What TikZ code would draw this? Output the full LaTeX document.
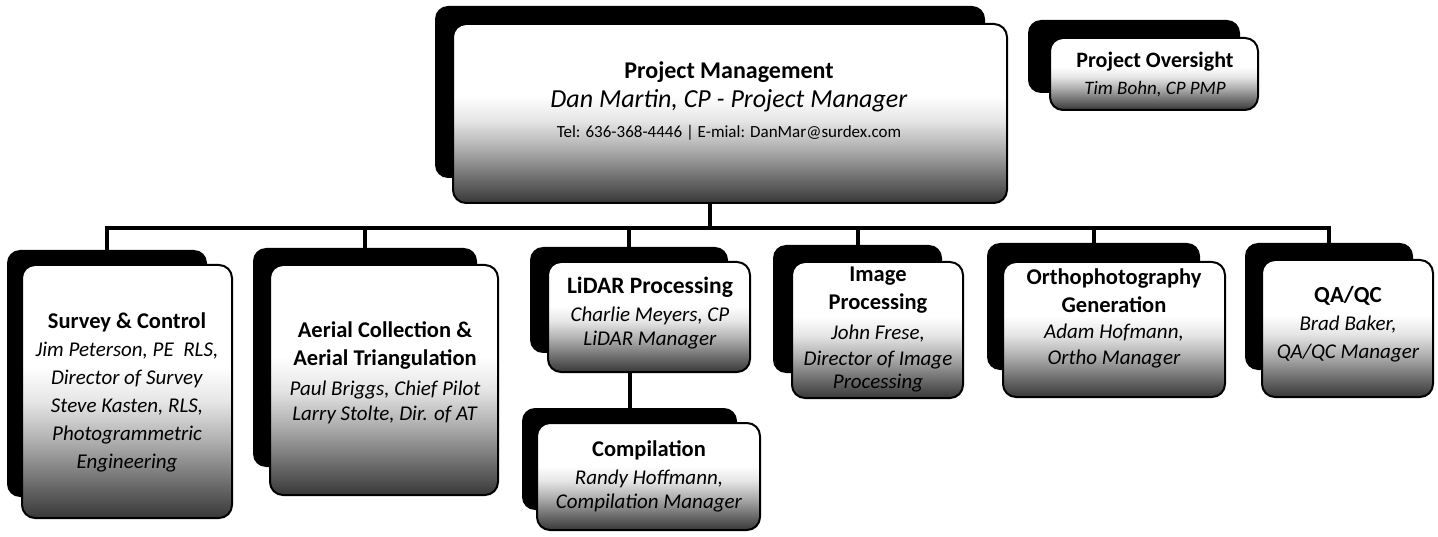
\documentclass[tikz,border=0pt]{standalone}
\usepackage{fontspec}
\setmainfont{Carlito}
% white at the top of each panel, darkening towards its lower edge
\pgfdeclareverticalshading{boxfade}{100bp}{color(0bp)=(black!80); color(25bp)=(black!78); color(31bp)=(black!60); color(40bp)=(black!32); color(48bp)=(black!10); color(55bp)=(white); color(100bp)=(white)}
\begin{document}
\begin{tikzpicture}[x=1pt,y=-1pt,
  backing/.style={fill=black, rounded corners=13pt, inner sep=0pt},
  panel/.style={draw=black, line width=2pt, rounded corners=13pt, shading=boxfade, inner sep=0pt},
  boxtext/.style={align=center, inner sep=0pt, font=\fontsize{21}{28}\selectfont},
  link/.style={line width=4pt}
]
\useasboundingbox (0,0) rectangle (1438,537);

% ---- Project Management
\node[backing, minimum width=550pt, minimum height=172pt] (pmsh) at (710,92) {};
\node[panel, minimum width=554pt, minimum height=179pt] (pm) at (730,113.5) {};
\node[boxtext] (pmtxt) at (729,101) {\fontsize{24}{29}\selectfont\textbf{Project Management}\\[1pt]
  \fontsize{26}{30}\selectfont\textit{Dan Martin, CP - Project Manager}\\[2pt]
  \fontsize{17}{28}\selectfont Tel: 636-368-4446 | E-mial: DanMar@surdex.com};

% ---- Project Oversight
\node[backing, minimum width=212pt, minimum height=73pt] (posh) at (1134,56.5) {};
\node[panel, minimum width=208pt, minimum height=72pt] (po) at (1154,74) {};
\node[boxtext] (potxt) at (1155,74.5) {\fontsize{22}{33}\selectfont\textbf{Project Oversight}\\
  \fontsize{19}{33}\selectfont\textit{Tim Bohn, CP PMP}};

% ---- Survey & Control
\node[backing, minimum width=200pt, minimum height=247pt] (svsh) at (107,373.5) {};
\node[panel, minimum width=210pt, minimum height=253pt] (sv) at (127,391.5) {};
\node[boxtext] (svtxt) at (127,392) {\textbf{\fontsize{22.5}{28}\selectfont Survey \& Control}\\
  \textit{Jim Peterson, PE\ \ RLS,}\\ \textit{Director of Survey}\\ \textit{Steve Kasten, RLS,}\\
  \textit{Photogrammetric}\\ \textit{Engineering}};

% ---- Aerial Collection & Aerial Triangulation
\node[backing, minimum width=224pt, minimum height=219pt] (aesh) at (365,357.5) {};
\node[panel, minimum width=228pt, minimum height=230pt] (ae) at (384,380) {};
\node[boxtext] (aetxt) at (385,372.5) {\textbf{\fontsize{22.5}{26}\selectfont Aerial Collection \&}\\
  \textbf{\fontsize{22.5}{26}\selectfont Aerial Triangulation}\\[2pt]
  \textit{Paul Briggs, Chief Pilot}\\[-3pt] \textit{Larry Stolte, Dir. of AT}};

% ---- LiDAR Processing
\node[backing, minimum width=198pt, minimum height=106pt] (lish) at (629,300) {};
\node[panel, minimum width=202pt, minimum height=110pt] (li) at (649,317) {};
\node[boxtext] (litxt) at (650,313) {\textbf{\fontsize{23.5}{24}\selectfont LiDAR Processing}\\
  \textit{Charlie Meyers, CP}\\[-4pt] \textit{LiDAR Manager}};

% ---- Compilation
\node[backing, minimum width=215pt, minimum height=102pt] (cosh) at (629.5,459) {};
\node[panel, minimum width=223pt, minimum height=107pt] (co) at (648.5,476.5) {};
\node[boxtext] (cotxt) at (649,476) {\textbf{\fontsize{22.5}{24}\selectfont Compilation}\\
  \textit{Randy Hoffmann,}\\[-4pt] \textit{Compilation Manager}};

% ---- Image Processing
\node[backing, minimum width=169pt, minimum height=128pt] (imsh) at (857.5,309) {};
\node[panel, minimum width=171pt, minimum height=136pt] (im) at (877.5,330) {};
\node[boxtext] (imtxt) at (878,330) {\textbf{\fontsize{22.5}{24}\selectfont Image}\\
  \textbf{\fontsize{22.5}{24}\selectfont Processing}\\[2pt]
  \textit{John Frese,}\\[-2pt] \textit{Director of Image}\\[-5pt] \textit{Processing}};

% ---- Orthophotography Generation
\node[backing, minimum width=213pt, minimum height=127pt] (orsh) at (1093.5,306.5) {};
\node[panel, minimum width=222pt, minimum height=135pt] (or) at (1114,329.5) {};
\node[boxtext] (ortxt) at (1114,318) {\textbf{\fontsize{22.5}{29}\selectfont Orthophotography}\\
  \textbf{\fontsize{22.5}{29}\selectfont Generation}\\[-2pt]
  \textit{Adam Hofmann,}\\[-2pt] \textit{Ortho Manager}};

% ---- QA/QC
\node[backing, minimum width=168pt, minimum height=127pt] (qash) at (1329,306.5) {};
\node[panel, minimum width=171pt, minimum height=137pt] (qa) at (1347.5,328.5) {};
\node[boxtext] (qatxt) at (1348,324) {\textbf{\fontsize{23}{30}\selectfont QA/QC}\\
  \textit{Brad Baker,}\\ \textit{QA/QC Manager}};

% ---- connectors
\coordinate (busL) at (107,228);
\coordinate (busR) at (1329,228);
\draw[link] (pm.south -| pmsh.south) -- (pmsh.south |- busL);
\draw[link, line cap=rect] (busL) -- (busR);
\draw[link] (busL) -- (svsh.north);
\draw[link] (aesh.north |- busL) -- (aesh.north);
\draw[link] (lish.north |- busL) -- (lish.north);
\draw[link] (imsh.north |- busL) -- (imsh.north);
\draw[link] (orsh.north |- busL) -- (orsh.north);
\draw[link] (busR) -- (qash.north);
\draw[link] (li.south -| cosh.north) -- (cosh.north);
\end{tikzpicture}
\end{document}
